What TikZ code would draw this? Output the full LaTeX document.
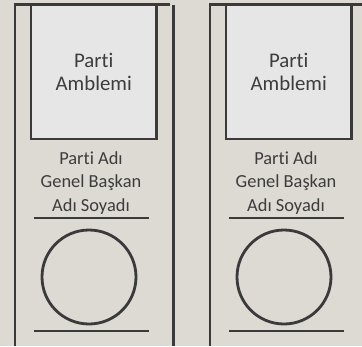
\documentclass[tikz,border=0pt]{standalone}
\usepackage{fontspec}
\setmainfont{Carlito}[Ligatures=NoCommon]
\usepackage{tikz}

\definecolor{paper}{HTML}{DDD9D3}
\definecolor{boxfill}{HTML}{E6E6E6}
\definecolor{ink}{HTML}{3A3A3A}
\definecolor{txt}{HTML}{3C3C3C}

\begin{document}
\begin{tikzpicture}[x=1pt, y=-1pt,
    rule/.style={draw=ink, line width=2.8pt},
    emblem/.style={rule, fill=boxfill, minimum width=125.5pt, minimum height=134.5pt,
      inner sep=0pt, align=center, text=txt, font=\fontsize{20.8}{23}\selectfont},
    info/.style={inner sep=0pt, align=center, text=txt, font=\fontsize{18.4}{23.5}\selectfont}]
  % paper and frame
  \useasboundingbox (0,0) rectangle (362,346);
  \fill[paper] (0,0) rectangle (362,346);
  \clip (0,0) rectangle (362,346);
  % one column per party, the second shifted right
  \foreach \i/\dx in {1/0, 2/195} {
    \begin{scope}[xshift=\dx]
      \draw[rule] (15,346) -- (15,4.5) -- (170,4.5);
      \draw[rule] (173.5,5) -- (173.5,346);
      \node[emblem] (emblem\i) at (93.75,71.75) {Parti\\Amblemi};
      \node[info] (name\i) at (91,183) {Parti Adı\\Genel Başkan\\Adı Soyadı};
      \draw[rule] (34,218) -- (149,218);
      \node[rule, circle, minimum size=94pt, inner sep=0pt] (stamp\i) at (89,277) {};
      \draw[rule] (34,331) -- (149,331);
    \end{scope}
  }
\end{tikzpicture}
\end{document}
